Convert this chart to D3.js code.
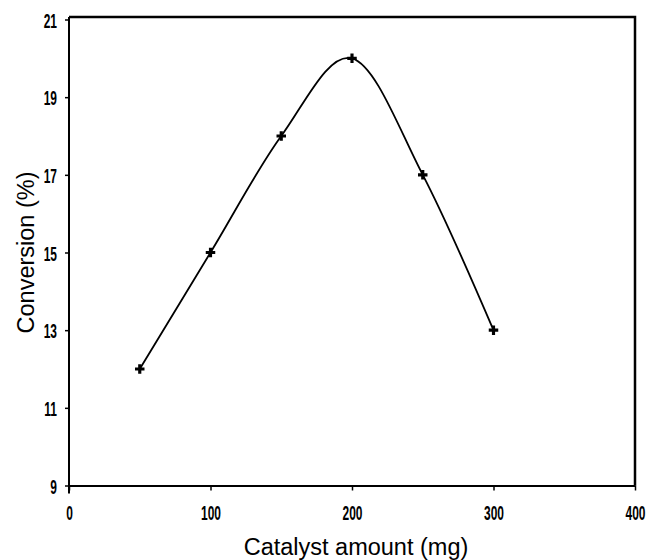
<!DOCTYPE html>
<html>
<head>
<meta charset="utf-8">
<script src="https://cdn.jsdelivr.net/npm/d3@7"></script>
<style>
  html, body { margin: 0; padding: 0; background: #fff; }
  svg { display: block; }
</style>
</head>
<body>
<svg id="chart" width="647" height="560"></svg>
<script>
// Catalyst loading vs. conversion
const catalystMg = [50, 100, 150, 200, 250, 300];
const conversionPct = [12, 15, 18, 20, 17, 13];
const xTicks = [0, 100, 200, 300, 400];
const yTicks = [9, 11, 13, 15, 17, 19, 21];

const svg = d3.select("#chart");
const x = d3.scaleLinear().domain([0, 400]).range([69, 635]);
const y = d3.scaleLinear().domain([9, 21]).range([485.5, 19.5]);

const tickFont = "'Liberation Sans', Arial, sans-serif";
const titleFont = "'Liberation Sans', Arial, sans-serif";

// top and right frame
svg.append("path")
  .attr("d", `M${x(0)},17 H${x(400)} V${y(9)}`)
  .attr("fill", "none").attr("stroke", "#000").attr("stroke-width", 2.5);

// x axis
const gx = svg.append("g").attr("transform", `translate(0,${y(9)})`)
  .call(d3.axisBottom(x).tickValues(xTicks).tickSize(5).tickSizeOuter(0).tickFormat(d3.format("d")));
gx.select(".domain").attr("stroke-width", 2);
gx.selectAll(".tick line").attr("stroke-width", 1.5);
gx.selectAll(".tick text").remove();
gx.selectAll(".tick").append("text")
  .attr("fill", "#000")
  .attr("font-family", tickFont)
  .attr("font-size", 21)
  .attr("font-weight", "bold")
  .attr("text-anchor", "middle")
  .attr("transform", "translate(0,34) scale(0.57,1)")
  .text(d => d);

// y axis
const gy = svg.append("g").attr("transform", `translate(${x(0)},0)`)
  .call(d3.axisLeft(y).tickValues(yTicks).tickSize(4).tickSizeOuter(0).tickFormat(d3.format("d")));
gy.select(".domain").attr("stroke-width", 2).attr("d", `M0,${y(9) + 8}V17`);
gy.selectAll(".tick line").attr("stroke-width", 1.5);
gy.selectAll(".tick text").remove();
gy.selectAll(".tick").append("text")
  .attr("fill", "#000")
  .attr("font-family", tickFont)
  .attr("font-size", 21)
  .attr("font-weight", "bold")
  .attr("text-anchor", "end")
  .attr("transform", "translate(-12,7.5) scale(0.57,1)")
  .text(d => d);

// axis titles
svg.append("text")
  .attr("x", x(200) + 4).attr("y", 555)
  .attr("text-anchor", "middle")
  .attr("font-family", titleFont)
  .attr("font-size", 23.5)
  .text("Catalyst amount (mg)");

svg.append("text")
  .attr("transform", `translate(34,${(y(9) + y(21)) / 2}) rotate(-90)`)
  .attr("text-anchor", "middle")
  .attr("font-family", titleFont)
  .attr("font-size", 23.5)
  .text("Conversion (%)");

// smoothed series line
const pts = catalystMg.map((c, i) => [c, conversionPct[i]]);
svg.append("path")
  .datum(pts)
  .attr("fill", "none")
  .attr("stroke", "#000")
  .attr("stroke-width", 1.8)
  .attr("d", d3.line().x(d => x(d[0])).y(d => y(d[1])).curve(d3.curveCardinal.tension(0)));

// plus-shaped markers
svg.append("g").selectAll("path.m")
  .data(pts).join("path")
  .attr("class", "m")
  .attr("transform", d => `translate(${x(d[0])},${y(d[1])})`)
  .attr("d", d3.symbol(d3.symbolCross, 50)())
  .attr("fill", "#000");
</script>
</body>
</html>
